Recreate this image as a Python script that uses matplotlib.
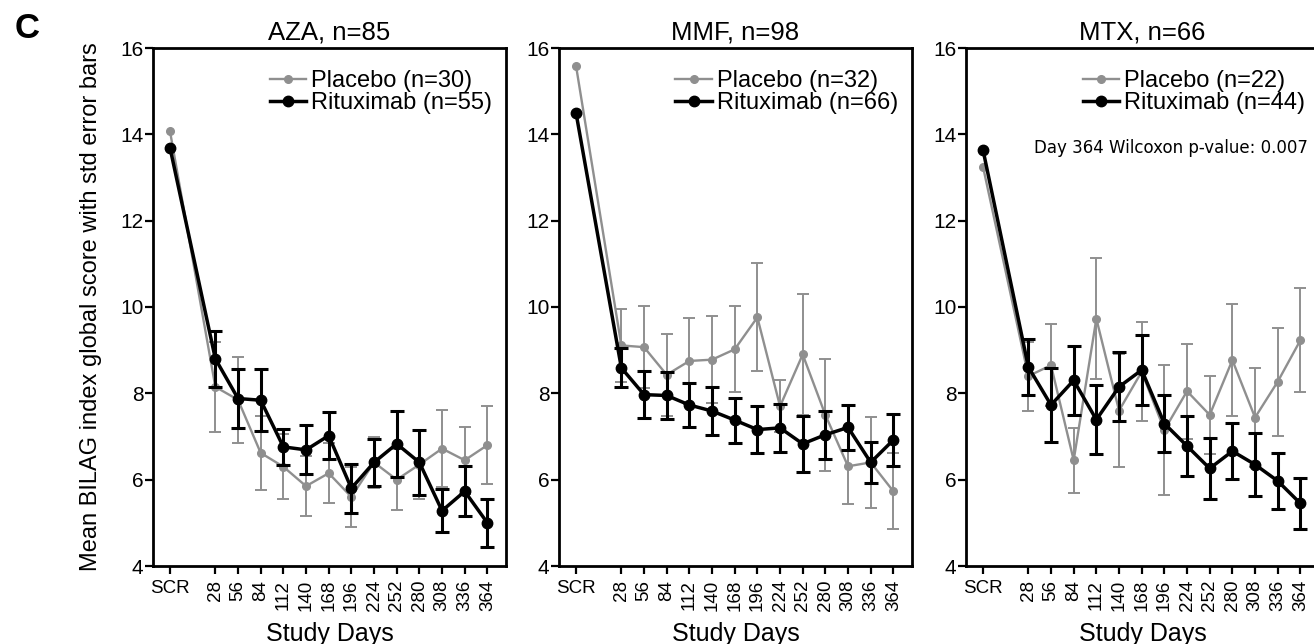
import numpy as np
import matplotlib
matplotlib.use('Agg')
import matplotlib.pyplot as plt

plt.rcParams['font.family'] = ['Liberation Sans', 'DejaVu Sans']

COLOR_PBO = '#8f8f8f'
COLOR_RTX = '#000000'

# study visit days (SCR = screening, drawn one visit before day 28)
day_labels = ['SCR', '28', '56', '84', '112', '140', '168', '196', '224', '252',
              '280', '308', '336', '364']
day_pos = [-28, 28, 56, 84, 112, 140, 168, 196, 224, 252, 280, 308, 336, 364]

panel_titles = ['AZA, n=85', 'MMF, n=98', 'MTX, n=66']
pbo_labels = ['Placebo (n=30)', 'Placebo (n=32)', 'Placebo (n=22)']
rtx_labels = ['Rituximab (n=55)', 'Rituximab (n=66)', 'Rituximab (n=44)']

# AZA
aza_pbo = [14.07, 8.15, 7.85, 6.62, 6.30, 5.85, 6.15, 5.60, 6.40, 6.00, 6.35, 6.72, 6.45, 6.80]
aza_pbo_err = [0.0, 1.05, 1.00, 0.85, 0.75, 0.70, 0.70, 0.70, 0.60, 0.70, 0.80, 0.90, 0.78, 0.90]
aza_rtx = [13.69, 8.80, 7.88, 7.84, 6.76, 6.69, 7.02, 5.80, 6.40, 6.83, 6.40, 5.28, 5.73, 5.00]
aza_rtx_err = [0.0, 0.65, 0.68, 0.72, 0.42, 0.57, 0.55, 0.57, 0.55, 0.76, 0.75, 0.50, 0.58, 0.55]

# MMF
mmf_pbo = [15.59, 9.11, 9.07, 8.43, 8.75, 8.78, 9.02, 9.76, 7.70, 8.90, 7.50, 6.31, 6.40, 5.73]
mmf_pbo_err = [0.0, 0.85, 0.95, 0.95, 1.00, 1.00, 1.00, 1.25, 0.60, 1.40, 1.30, 0.88, 1.05, 0.88]
mmf_rtx = [14.50, 8.59, 7.97, 7.95, 7.73, 7.59, 7.38, 7.16, 7.20, 6.83, 7.04, 7.21, 6.40, 6.92]
mmf_rtx_err = [0.0, 0.45, 0.55, 0.55, 0.50, 0.55, 0.52, 0.55, 0.55, 0.65, 0.55, 0.52, 0.48, 0.60]

# MTX
mtx_pbo = [13.25, 8.40, 8.65, 6.45, 9.73, 7.60, 8.50, 7.15, 8.05, 7.50, 8.77, 7.44, 8.27, 9.23]
mtx_pbo_err = [0.0, 0.80, 0.95, 0.75, 1.40, 1.30, 1.15, 1.50, 1.10, 0.90, 1.30, 1.15, 1.25, 1.20]
mtx_rtx = [13.64, 8.61, 7.73, 8.30, 7.39, 8.15, 8.54, 7.30, 6.78, 6.26, 6.66, 6.35, 5.97, 5.45]
mtx_rtx_err = [0.0, 0.65, 0.85, 0.80, 0.80, 0.80, 0.80, 0.65, 0.70, 0.70, 0.65, 0.72, 0.65, 0.60]

pbo_means = [aza_pbo, mmf_pbo, mtx_pbo]
pbo_errs = [aza_pbo_err, mmf_pbo_err, mtx_pbo_err]
rtx_means = [aza_rtx, mmf_rtx, mtx_rtx]
rtx_errs = [aza_rtx_err, mmf_rtx_err, mtx_rtx_err]

fig = plt.figure(figsize=(13.14, 6.44), dpi=100)
lefts = [153, 559, 966]
W, H = 1314.0, 644.0

for i in range(3):
    ax = fig.add_axes([lefts[i] / W, 78 / H, 353 / W, 518 / H])
    x = np.array(day_pos)
    # placebo: error bars start at day 28
    ax.errorbar(x[1:], pbo_means[i][1:], yerr=pbo_errs[i][1:], fmt='none',
                ecolor=COLOR_PBO, elinewidth=1.4, capsize=4.5, capthick=1.4, zorder=2)
    ax.plot(x, pbo_means[i], '-o', color=COLOR_PBO, lw=1.7, ms=5.5,
            label=pbo_labels[i], zorder=3)
    ax.errorbar(x[1:], rtx_means[i][1:], yerr=rtx_errs[i][1:], fmt='none',
                ecolor=COLOR_RTX, elinewidth=2.2, capsize=5, capthick=2.2, zorder=4)
    ax.plot(x, rtx_means[i], '-o', color=COLOR_RTX, lw=2.5, ms=7.5,
            label=rtx_labels[i], zorder=5)

    ax.set_xlim(-49, 387)
    ax.set_ylim(4, 16)
    ax.set_yticks([4, 6, 8, 10, 12, 14, 16])
    ax.set_xticks(day_pos)
    ax.set_xticklabels(day_labels, fontsize=13.5)
    for lab in ax.get_xticklabels()[1:]:
        lab.set_rotation(90)
    ax.tick_params(axis='y', labelsize=15, length=6, width=1.6, pad=1)
    ax.tick_params(axis='x', length=6, width=1.6, pad=4)
    for sp in ax.spines.values():
        sp.set_linewidth(2.0)

    ax.set_title(panel_titles[i], fontsize=18.5, pad=6)
    ax.set_xlabel('Study Days', fontsize=18, labelpad=8)
    ax.legend(loc='upper right', bbox_to_anchor=(1.0, 0.985), frameon=False,
              fontsize=17, handlelength=1.55, handletextpad=0.2,
              labelspacing=0.02, borderaxespad=0.2)

    if i == 0:
        ax.set_ylabel('Mean BILAG index global score with std error bars',
                      fontsize=17, labelpad=13)
    if i == 2:
        fig.text(1308 / W, 1 - 148 / H, 'Day 364 Wilcoxon p-value: 0.007',
                 ha='right', va='center', fontsize=12, family='DejaVu Sans')

fig.text(15 / W, 1 - 28 / H, 'C', fontsize=25, fontweight='bold', va='center', ha='left')

fig.savefig('out.png', dpi=100)
